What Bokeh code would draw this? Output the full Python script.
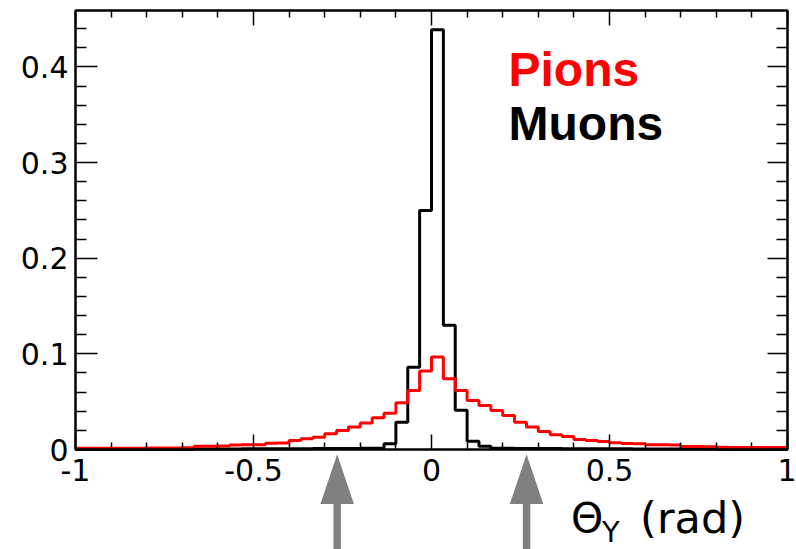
import numpy as np
from bokeh.plotting import figure
from bokeh.models import (LinearAxis, FixedTicker, NumeralTickFormatter,
                          CustomJSTickFormatter, Label, PolyAnnotation, Range1d)
from bokeh.embed import file_html
from bokeh.resources import INLINE

# ---------------- data ----------------
x_min, x_max, n_bins = -1.0, 1.0, 60
y_top = 0.459
bin_edges = np.linspace(x_min, x_max, n_bins + 1)

pions = [0.0012, 0.0012, 0.0013, 0.0013, 0.0014, 0.0014, 0.0015, 0.0015, 0.0016, 0.0017,
         0.0035, 0.0035, 0.0036, 0.0048, 0.0049, 0.0050, 0.0065, 0.0067, 0.0094, 0.0112,
         0.0129, 0.0164, 0.0199, 0.0234, 0.0276, 0.0332, 0.0380, 0.0489, 0.0618, 0.0820,
         0.0967, 0.0740, 0.0618, 0.0513, 0.0460, 0.0408, 0.0356, 0.0286, 0.0234, 0.0188,
         0.0154, 0.0136, 0.0105, 0.0094, 0.0084, 0.0070, 0.0062, 0.0060, 0.0050, 0.0049,
         0.0048, 0.0032, 0.0031, 0.0030, 0.0023, 0.0022, 0.0022, 0.0021, 0.0021, 0.0020]

muons = [0.0, 0.0, 0.0, 0.0, 0.0, 0.0, 0.0, 0.0, 0.0, 0.0,
         0.0005, 0.0005, 0.0006, 0.0006, 0.0007, 0.0007, 0.0008, 0.0008, 0.0009, 0.0009,
         0.0010, 0.0010, 0.0011, 0.0011, 0.0012, 0.0012, 0.0060, 0.0286, 0.0860, 0.2500,
         0.4390, 0.1300, 0.0410, 0.0085, 0.0035, 0.0012, 0.0012, 0.0011, 0.0011, 0.0010,
         0.0010, 0.0009, 0.0009, 0.0008, 0.0008, 0.0007, 0.0007, 0.0006, 0.0006, 0.0005,
         0.0005, 0.0005, 0.0004, 0.0004, 0.0, 0.0, 0.0, 0.0, 0.0, 0.0]

x_major_ticks = [-1.0, -0.5, 0.0, 0.5, 1.0]
x_minor_ticks = [-0.9, -0.8, -0.7, -0.6, -0.4, -0.3, -0.2, -0.1,
                 0.1, 0.2, 0.3, 0.4, 0.6, 0.7, 0.8, 0.9]
y_major_ticks = [0.0, 0.1, 0.2, 0.3, 0.4]
y_minor_ticks = [0.02, 0.04, 0.06, 0.08, 0.12, 0.14, 0.16, 0.18, 0.22, 0.24, 0.26, 0.28,
                 0.32, 0.34, 0.36, 0.38, 0.42, 0.44]

series_names = ["Pions", "Muons"]
series_colors = ["#ff0000", "#000000"]
arrow_x = [-0.265, 0.267]          # cut positions marked by arrows
x_title = ["\u0398", "Y", "(rad)"]

# ---------------- figure ----------------
# The frame covers the whole canvas; the axes are pinned to the histogram box,
# so the tick labels, arrows and axis title below the box are not clipped.
W, H = 796, 549
box_l, box_r, box_t, box_b = 75.0, 787.0, 10.0, 449.0   # box position in pixels
px_x = (box_r - box_l) / (x_max - x_min)
px_y = (box_b - box_t) / y_top
p = figure(width=W, height=H, output_backend="svg", toolbar_location=None,
           x_range=Range1d(x_min - box_l / px_x, x_max + (W - box_r) / px_x),
           y_range=Range1d(-(H - box_b) / px_y, y_top + box_t / px_y),
           x_axis_location=None, y_axis_location=None,
           min_border=0, min_border_left=0, min_border_right=0,
           min_border_top=0, min_border_bottom=0)
p.background_fill_color = "white"
p.border_fill_color = "white"
p.grid.visible = False
p.outline_line_color = None

label_font = "DejaVu Sans"
blank = CustomJSTickFormatter(code="return ''")

def style_axis(ax, major_in, minor_in, show_labels, standoff=6):
    ax.axis_line_color = None
    ax.major_tick_line_color = "black"
    ax.minor_tick_line_color = "black"
    ax.major_tick_line_width = 1.5
    ax.minor_tick_line_width = 1.5
    ax.major_tick_in = major_in
    ax.major_tick_out = 0
    ax.minor_tick_in = minor_in
    ax.minor_tick_out = 0
    ax.major_label_text_font = label_font
    ax.major_label_text_color = "black"
    ax.major_label_text_font_size = "30px"
    if show_labels:
        ax.formatter = NumeralTickFormatter(format="0.[0]")
        ax.major_label_standoff = standoff
    else:
        ax.formatter = blank
        ax.major_label_standoff = 0

def xt():
    return FixedTicker(ticks=x_major_ticks, minor_ticks=x_minor_ticks)

def yt():
    return FixedTicker(ticks=y_major_ticks, minor_ticks=y_minor_ticks)

bottom = LinearAxis(ticker=xt(), fixed_location=0.0)
style_axis(bottom, 15, 7, True, standoff=9)
p.add_layout(bottom, "below")

left = LinearAxis(ticker=yt(), fixed_location=x_min)
style_axis(left, 22, 11, True, standoff=7)
p.add_layout(left, "left")

top = LinearAxis(ticker=xt(), fixed_location=y_top)
style_axis(top, 15, 7, False)
p.add_layout(top, "above")

right = LinearAxis(ticker=yt(), fixed_location=x_max)
style_axis(right, 20, 11, False)
p.add_layout(right, "right")

# ---------------- histograms ----------------
vals = [pions, muons]
for i in [1, 0]:  # muons first, pions on top
    v = vals[i]
    p.step(x=bin_edges, y=list(v) + [v[-1]], mode="after",
           line_color=series_colors[i], line_width=3)

# histogram frame box
p.quad(left=[x_min], right=[x_max], bottom=[0.0], top=[y_top],
       fill_color=None, line_color="black", line_width=2.5)

# legend texts
p.add_layout(Label(x=0.2163, y=(box_b - 69.3) / px_y, text=series_names[0],
                   text_color=series_colors[0], text_font="Liberation Sans",
                   text_font_style="bold", text_font_size="48px", text_baseline="middle"))
p.add_layout(Label(x=0.2163, y=(box_b - 123.0) / px_y, text=series_names[1],
                   text_color=series_colors[1], text_font="Liberation Sans",
                   text_font_style="bold", text_font_size="48px", text_baseline="middle"))

# axis title
p.add_layout(Label(x=0.3920, y=-0.0720, text=x_title[0], text_font=label_font,
                   text_font_size="41px", text_baseline="middle", text_color="black"))
p.add_layout(Label(x=0.4790, y=-(531.5 - box_b) / px_y, text=x_title[1], text_font=label_font,
                   text_font_size="29px", text_baseline="middle", text_color="black"))
p.add_layout(Label(x=0.5860, y=-0.0715, text=x_title[2], text_font=label_font,
                   text_font_size="43px", text_baseline="middle", text_color="black"))

# arrows
tip_y, head_len, bottom_y = -0.005, 0.052, -0.12
half_head, half_shaft = 0.047, 0.0105
for ax_ in arrow_x:
    hb = tip_y - head_len
    xs = [ax_, ax_ + half_head, ax_ + half_shaft, ax_ + half_shaft,
          ax_ - half_shaft, ax_ - half_shaft, ax_ - half_head]
    ys = [tip_y, hb, hb, bottom_y, bottom_y, hb, hb]
    p.add_layout(PolyAnnotation(xs=xs, ys=ys, fill_color="#808080", fill_alpha=1.0,
                                line_color=None))

open("out.html", "w").write(file_html(p, INLINE))
